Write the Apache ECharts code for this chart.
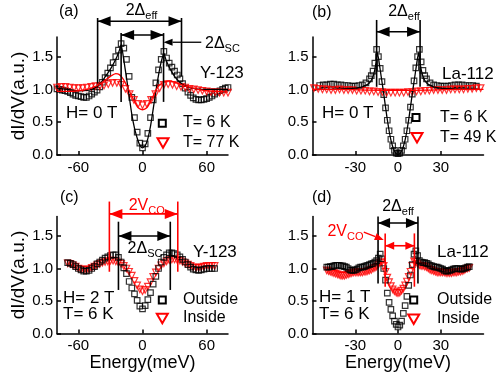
<!DOCTYPE html>
<html>
<head>
<meta charset="utf-8">
<title>dI/dV spectra</title>
<script src="https://cdn.jsdelivr.net/npm/echarts@6/dist/echarts.min.js"></script>
<style>
  html, body { margin: 0; padding: 0; background: #fff; }
  #chart { width: 497px; height: 377px; }
</style>
</head>
<body>
<div id="chart"></div>
<script>
// (a) Y-123, H = 0 T
const eA = [-80,-77.5,-75,-72.5,-70,-67.5,-65,-62.5,-60,-57.5,-55,-52.5,-50,-47.5,-45,-42.5,-40,-37.5,-35,-32.5,-30,-27.5,-25,-22.5,-20,-17.5,-15,-12.5,-10,-7.5,-5,-2.5,0,2.5,5,7.5,10,12.5,15,17.5,20,22.5,25,27.5,30,32.5,35,37.5,40,42.5,45,47.5,50,52.5,55,57.5,60,62.5,65,67.5,70,72.5,75,77.5,80]
const a6K = [1.01,1.00,0.99,0.98,0.97,0.95,0.93,0.91,0.90,0.89,0.88,0.88,0.90,0.93,0.96,0.99,1.04,1.11,1.18,1.25,1.33,1.41,1.50,1.60,1.70,1.63,1.46,1.20,0.88,0.57,0.35,0.18,0.11,0.17,0.33,0.57,0.84,1.10,1.30,1.46,1.58,1.48,1.40,1.34,1.28,1.22,1.16,1.09,1.02,0.96,0.91,0.87,0.85,0.84,0.84,0.85,0.86,0.88,0.90,0.93,0.96,0.98,1.00,1.02,1.03]
const eAfit = [-80,-70,-60,-50,-45,-40,-35,-30,-25,-22,-20,-17.5,-15,-12.5,-10,-7.5,-5,-2.5,0,2.5,5,7.5,10,12.5,15,17.5,20,22,25,30,35,40,50,60,70,80]
const aFit6K = [1.02,1.00,0.98,0.99,1.02,1.08,1.19,1.31,1.46,1.58,1.68,1.45,1.18,0.90,0.62,0.41,0.26,0.15,0.11,0.14,0.25,0.44,0.70,0.97,1.22,1.42,1.55,1.45,1.34,1.20,1.11,1.05,1.01,1.00,1.00,1.00]
const eA77 = [-80,-76,-72,-68,-64,-60,-56,-52,-48,-44,-40,-36,-32,-28,-24,-20,-16,-12,-8,-4,0,4,8,12,16,20,24,28,32,36,40,44,48,52,56,60,64,68,72,76,80]
const a77K = [1.03,1.04,1.04,1.03,1.02,1.02,1.02,1.03,1.04,1.05,1.05,1.06,1.08,1.10,1.10,1.07,1.01,0.93,0.84,0.78,0.76,0.78,0.84,0.93,1.02,1.07,1.08,1.07,1.05,1.04,1.03,1.01,1.00,0.99,0.98,0.97,0.96,0.96,0.95,0.95,0.95]
const eAfit77 = [-80,-70,-60,-50,-45,-40,-35,-30,-25,-22,-19,-16,-13,-10,-7,-4,0,4,7,10,13,16,20,25,30,35,40,50,60,70,80]
const aFit77 = [0.97,0.97,0.98,1.01,1.04,1.08,1.14,1.20,1.24,1.23,1.18,1.10,1.00,0.90,0.80,0.72,0.69,0.72,0.80,0.90,1.00,1.07,1.11,1.13,1.11,1.08,1.05,1.01,0.98,0.97,0.96]

// (b) La-112, H = 0 T
const eB = [-55,-52.5,-50,-47.5,-45,-42.5,-40,-37.5,-35,-32.5,-30,-27.5,-25,-22.5,-20,-18.75,-17.5,-16.25,-15,-13.75,-12.5,-11.25,-10,-8.75,-7.5,-6.25,-5,-3.75,-2.5,-1.25,0,1.25,2.5,3.75,5,6.25,7.5,8.75,10,11.25,12.5,13.75,15,16.25,17.5,18.75,20,22.5,25,27.5,30,32.5,35,37.5,40,42.5,45,47.5,50,52.5,55]
const b6K = [1.06,1.07,1.07,1.08,1.08,1.07,1.07,1.06,1.06,1.05,1.05,1.06,1.07,1.10,1.16,1.21,1.28,1.40,1.61,1.50,1.32,1.12,0.92,0.72,0.53,0.37,0.24,0.14,0.07,0.03,0.02,0.03,0.07,0.14,0.24,0.37,0.53,0.73,0.93,1.13,1.33,1.50,1.61,1.42,1.29,1.21,1.16,1.10,1.07,1.06,1.05,1.05,1.05,1.06,1.07,1.07,1.07,1.06,1.06,1.06,1.05]
const eBfit = [-55,-50,-40,-30,-25,-22,-20,-18,-16.5,-15.5,-14.5,-13.5,-12.5,-11,-10,-8.75,-7.5,-6.25,-5,-3.75,-2.5,-1.25,0,1.25,2.5,3.75,5,6.25,7.5,8.75,10,11,12.5,13.5,14.5,15.5,16.5,18,20,22,25,30,40,50,55]
const bFit6K = [1.00,1.00,1.01,1.02,1.04,1.07,1.10,1.17,1.28,1.40,1.56,1.45,1.30,1.08,0.93,0.73,0.54,0.37,0.23,0.13,0.06,0.02,0.01,0.02,0.06,0.13,0.23,0.37,0.54,0.73,0.93,1.08,1.30,1.45,1.56,1.40,1.28,1.17,1.10,1.07,1.04,1.02,1.01,1.00,1.00]
const eB49 = [-59,-56,-53,-50,-47,-44,-41,-38,-35,-32,-29,-26,-23,-20,-17,-14,-11,-8,-5,-2,1,4,7,10,13,16,19,22,25,28,31,34,37,40,43,46,49,52,55,58]
const b49K = [1.02,1.01,1.00,1.00,0.99,0.99,1.00,0.99,0.99,0.99,0.98,0.98,0.98,0.97,0.97,0.96,0.96,0.95,0.95,0.95,0.95,0.95,0.96,0.96,0.97,0.97,0.98,0.98,0.99,0.99,0.99,0.99,1.00,1.00,1.00,1.00,1.01,1.01,1.02,1.02]
const eBfit49 = [-60,-40,-20,0,20,40,60]
const bFit49 = [1.00,1.00,0.99,0.985,0.99,1.00,1.00]

// (c) Y-123, H = 2 T, T = 6 K
const eC = [-70,-67.5,-65,-62.5,-60,-57.5,-55,-52.5,-50,-47.5,-45,-42.5,-40,-37.5,-35,-32.5,-30,-27.5,-25,-22.5,-20,-17.5,-15,-12.5,-10,-7.5,-5,-2.5,0,2.5,5,7.5,10,12.5,15,17.5,20,22.5,25,27.5,30,32.5,35,37.5,40,42.5,45,47.5,50,52.5,55,57.5,60,62.5,65,67.5]
const cOut = [1.09,1.08,1.06,1.03,1.00,0.98,0.96,0.96,0.97,1.00,1.03,1.07,1.10,1.13,1.16,1.18,1.20,1.21,1.21,1.17,1.10,1.01,0.92,0.80,0.70,0.61,0.51,0.42,0.38,0.43,0.52,0.63,0.76,0.88,1.00,1.10,1.17,1.21,1.24,1.24,1.23,1.21,1.18,1.14,1.10,1.06,1.02,0.99,0.98,0.97,0.98,0.99,1.00,1.00,1.00,1.00]
const cIn = [1.08,1.07,1.05,1.03,1.00,0.99,0.98,0.98,0.99,1.01,1.03,1.05,1.07,1.09,1.10,1.11,1.12,1.12,1.11,1.09,1.07,1.04,1.00,0.95,0.89,0.81,0.74,0.68,0.65,0.67,0.72,0.79,0.87,0.94,1.00,1.05,1.08,1.11,1.13,1.14,1.14,1.13,1.12,1.10,1.08,1.06,1.04,1.02,1.01,1.01,1.02,1.03,1.04,1.04,1.04,1.04]

// (d) La-112, H = 1 T, T = 6 K
const eD = [-50,-48.75,-47.5,-46.25,-45,-43.75,-42.5,-41.25,-40,-38.75,-37.5,-36.25,-35,-33.75,-32.5,-31.25,-30,-28.75,-27.5,-26.25,-25,-23.75,-22.5,-21.25,-20,-18.75,-17.5,-16.25,-15,-13.75,-12.5,-11.25,-10,-8.75,-7.5,-6.25,-5,-3.75,-2.5,-1.25,0,1.25,2.5,3.75,5,6.25,7.5,8.75,10,11.25,12.5,13.75,15,16.25,17.5,18.75,20,21.25,22.5,23.75,25,26.25,27.5,28.75,30,31.25,32.5,33.75,35,36.25,37.5,38.75,40,41.25,42.5,43.75,45,46.25,47.5,48.75,50]
const dOut = [1.02,1.02,1.03,1.03,1.04,1.05,1.05,1.05,1.04,1.04,1.03,1.02,1.00,0.98,0.97,0.97,0.98,0.99,1.01,1.02,1.02,1.03,1.04,1.05,1.06,1.07,1.08,1.10,1.12,1.16,1.22,1.15,1.00,0.82,0.62,0.48,0.37,0.27,0.19,0.14,0.10,0.13,0.19,0.31,0.43,0.57,0.74,0.90,1.06,1.22,1.27,1.20,1.12,1.10,1.09,1.09,1.08,1.07,1.05,1.04,1.03,1.02,1.02,1.01,1.00,0.99,0.97,0.96,0.96,0.97,0.98,0.99,1.00,1.00,1.00,0.99,0.99,1.00,1.01,1.02,1.03]
const dIn = [0.97,0.96,0.95,0.94,0.93,0.92,0.91,0.90,0.89,0.89,0.89,0.90,0.91,0.92,0.93,0.94,0.94,0.94,0.94,0.94,0.94,0.95,0.95,0.96,0.97,0.98,1.00,1.01,1.03,1.06,1.09,1.10,1.04,0.95,0.86,0.79,0.73,0.68,0.65,0.63,0.62,0.63,0.66,0.69,0.74,0.80,0.87,0.95,1.04,1.11,1.10,1.07,1.05,1.04,1.04,1.03,1.02,1.00,0.98,0.97,0.96,0.95,0.94,0.94,0.94,0.94,0.94,0.93,0.93,0.93,0.93,0.94,0.94,0.94,0.95,0.95,0.96,0.97,0.99,1.00,1.01]

const yTicks = [0, 0.5, 1, 1.5]
const FONT = '"Liberation Sans", Arial, Helvetica, sans-serif'
const K = '#000'
const R = '#ff0000'

const pts = (xs, ys) => xs.map((x, i) => [x, ys[i]])

// annotation marks in data units: vertical bars, double arrows, leader arrows
const annA = {
  v: [[-42, 1.09, 2.09, K], [36.5, 1.2, 2.09, K], [-20, 0.81, 1.86, K], [19.7, 0.81, 1.86, K]],
  a: [[-42, 36.5, 2.04, K, 13, 5], [-20, 19.7, 1.83, K, 13, 5]],
  l: [[55, 1.72, 19.7, 1.72, K]]
}
const annB = {
  v: [[-15, 1.04, 2.06, K], [15.5, 1.04, 2.06, K]],
  a: [[-15, 15.5, 1.88, K, 13, 5]],
  l: []
}
const annC = {
  v: [[-31, 0.95, 2.03, R], [33, 0.95, 2.03, R], [-22.5, 0.67, 1.72, K], [26, 0.67, 1.72, K]],
  a: [[-31, 33, 1.84, R, 13, 5], [-22.5, 26, 1.5, K, 13, 5]],
  l: []
}
const annD = {
  v: [[-14, 0.77, 1.8, K], [14, 0.77, 1.8, K], [-9, 0.72, 1.54, R], [11.5, 0.72, 1.54, R]],
  a: [[-14, 14, 1.7, K, 12, 5], [-9, 11.5, 1.35, R, 9, 4]],
  l: [[-24, 1.56, -10, 1.44, R]]
}

const chart = echarts.init(document.getElementById('chart'), null, { renderer: 'canvas' })

function xAx(gi, min, max, ticks, name) {
  return {
    type: 'value', gridIndex: gi, min: min, max: max,
    name: name || '', nameLocation: 'middle', nameGap: 19,
    nameTextStyle: { fontSize: 18, fontFamily: FONT, color: '#000' },
    axisLine: { show: true, onZero: false, lineStyle: { color: '#000', width: 1.5 } },
    axisTick: { show: true, inside: true, length: 4, customValues: ticks, lineStyle: { color: '#000', width: 1.5 } },
    axisLabel: { customValues: ticks, fontSize: 15, fontFamily: FONT, color: '#000', margin: 5 },
    splitLine: { show: false }
  }
}

function yAx(gi, name) {
  return {
    type: 'value', gridIndex: gi, min: 0, max: 1.8,
    name: name || '', nameLocation: 'middle', nameGap: 17,
    nameTextStyle: { fontSize: 19, fontFamily: FONT, color: '#000' },
    axisLine: { show: true, onZero: false, lineStyle: { color: '#000', width: 1.5 } },
    axisTick: { show: true, inside: true, length: 4, customValues: yTicks, lineStyle: { color: '#000', width: 1.5 } },
    axisLabel: { customValues: yTicks, fontSize: 15, fontFamily: FONT, color: '#000', margin: 4,
      formatter: function (v) { return v.toFixed(1) } },
    splitLine: { show: false }
  }
}

function squares(gi, data) {
  return {
    type: 'scatter', xAxisIndex: gi, yAxisIndex: gi, data: data, silent: true,
    symbol: 'rect', symbolSize: 5.5,
    itemStyle: { color: 'rgba(0,0,0,0)', borderColor: K, borderWidth: 1.2 }
  }
}

function triangles(gi, data) {
  return {
    type: 'scatter', xAxisIndex: gi, yAxisIndex: gi, data: data, silent: true,
    symbol: 'triangle', symbolSize: 6.5, symbolRotate: 180,
    itemStyle: { color: 'rgba(0,0,0,0)', borderColor: R, borderWidth: 1.2 }
  }
}

function fitLine(gi, data, color) {
  return {
    type: 'line', xAxisIndex: gi, yAxisIndex: gi, data: data, silent: true,
    showSymbol: false, symbol: 'none', smooth: 0.2,
    lineStyle: { color: color, width: 1.3 }
  }
}

function annot(gi, spec) {
  return {
    type: 'custom', xAxisIndex: gi, yAxisIndex: gi, silent: true, z: 5, clip: false,
    data: [[0, 0]],
    renderItem: function (params, api) {
      const ch = []
      spec.v.forEach(function (s) {
        const p1 = api.coord([s[0], s[1]]), p2 = api.coord([s[0], s[2]])
        ch.push({ type: 'line', shape: { x1: p1[0], y1: p1[1], x2: p2[0], y2: p2[1] },
          style: { stroke: s[3], lineWidth: 1.6 } })
      })
      spec.a.forEach(function (s) {
        const pa = api.coord([s[0], s[2]]), pb = api.coord([s[1], s[2]])
        const L = s[4], H = s[5]
        ch.push({ type: 'line', shape: { x1: pa[0], y1: pa[1], x2: pb[0], y2: pb[1] },
          style: { stroke: s[3], lineWidth: 1.6 } })
        ch.push({ type: 'polygon', shape: { points: [[pa[0], pa[1]], [pa[0] + L, pa[1] - H], [pa[0] + L, pa[1] + H]] },
          style: { fill: s[3] } })
        ch.push({ type: 'polygon', shape: { points: [[pb[0], pb[1]], [pb[0] - L, pb[1] - H], [pb[0] - L, pb[1] + H]] },
          style: { fill: s[3] } })
      })
      spec.l.forEach(function (s) {
        const p1 = api.coord([s[0], s[1]]), p2 = api.coord([s[2], s[3]])
        const dx = p2[0] - p1[0], dy = p2[1] - p1[1]
        const len = Math.sqrt(dx * dx + dy * dy)
        const ux = dx / len, uy = dy / len
        const L = 9, H = 3.5
        const bx = p2[0] - ux * L, by = p2[1] - uy * L
        ch.push({ type: 'line', shape: { x1: p1[0], y1: p1[1], x2: bx, y2: by },
          style: { stroke: s[4], lineWidth: 1.3 } })
        ch.push({ type: 'polygon', shape: { points: [[p2[0], p2[1]], [bx - uy * H, by + ux * H], [bx + uy * H, by - ux * H]] },
          style: { fill: s[4] } })
      })
      return { type: 'group', children: ch }
    }
  }
}

function txt(x, y, text, size, color, align) {
  return { type: 'text', x: x, y: y, silent: true, z: 10,
    style: { text: text, fontSize: size, fontFamily: FONT, fill: color || K,
      align: align || 'left', verticalAlign: 'middle' } }
}

function subTxt(x, y, main, sub, size, color, align) {
  const c = color || K
  return { type: 'text', x: x, y: y, silent: true, z: 10,
    style: { text: '{m|' + main + '}{s|' + sub + '}', fill: c,
      align: align || 'center', verticalAlign: 'middle',
      rich: {
        m: { fontSize: size, fontFamily: FONT, lineHeight: size + 4, fill: c },
        s: { fontSize: Math.round(size * 0.7), fontFamily: FONT, lineHeight: 8, verticalAlign: 'bottom', fill: c }
      } } }
}

function sqMark(x, y) {
  return { type: 'rect', silent: true, z: 10, shape: { x: x - 3.5, y: y - 3.5, width: 7, height: 7 },
    style: { fill: 'none', stroke: K, lineWidth: 2 } }
}

function triMark(x, y) {
  return { type: 'polygon', silent: true, z: 10, shape: { points: [[x - 5.5, y - 4.5], [x + 5.5, y - 4.5], [x, y + 5]] },
    style: { fill: 'none', stroke: R, lineWidth: 2 } }
}

chart.setOption({
  backgroundColor: '#fff',
  animation: false,
  grid: [
    { left: 57, top: 37, width: 171, height: 118 },
    { left: 312.5, top: 37, width: 171, height: 118 },
    { left: 57, top: 216.5, width: 171, height: 117 },
    { left: 312.5, top: 216.5, width: 171, height: 117 }
  ],
  xAxis: [
    xAx(0, -80, 80, [-60, 0, 60]),
    xAx(1, -60, 60, [-30, 0, 30]),
    xAx(2, -80, 80, [-60, 0, 60], 'Energy(meV)'),
    xAx(3, -60, 60, [-30, 0, 30], 'Energy(meV)')
  ],
  yAxis: [
    yAx(0, 'dI/dV(a.u.)'),
    yAx(1),
    yAx(2, 'dI/dV(a.u.)'),
    yAx(3)
  ],
  series: [
    squares(0, pts(eA, a6K)),
    fitLine(0, pts(eAfit, aFit6K), K),
    triangles(0, pts(eA77, a77K)),
    fitLine(0, pts(eAfit77, aFit77), R),
    annot(0, annA),

    squares(1, pts(eB, b6K)),
    fitLine(1, pts(eBfit, bFit6K), K),
    triangles(1, pts(eB49, b49K)),
    fitLine(1, pts(eBfit49, bFit49), R),
    annot(1, annB),

    triangles(2, pts(eC, cIn)),
    squares(2, pts(eC, cOut)),
    annot(2, annC),

    triangles(3, pts(eD, dIn)),
    squares(3, pts(eD, dOut)),
    annot(3, annD)
  ],
  graphic: [
    // (a)
    txt(59, 12, '(a)', 16),
    subTxt(141.5, 11, '2Δ', 'eff', 16),
    subTxt(205, 44, '2Δ', 'SC', 16, K, 'left'),
    txt(200, 73, 'Y-123', 17),
    txt(66, 113, 'H= 0 T', 17),
    sqMark(162.3, 123.3), txt(183, 123, 'T= 6 K', 16),
    triMark(163, 142.7), txt(183, 143, 'T= 77 K', 16),
    // (b)
    txt(312, 13, '(b)', 16),
    subTxt(404, 12, '2Δ', 'eff', 16),
    txt(442, 74, 'La-112', 17),
    txt(322, 113, 'H= 0 T', 17),
    sqMark(416, 117.5), txt(440, 118, 'T= 6 K', 16),
    triMark(417, 137.5), txt(440, 138, 'T= 49 K', 16),
    // (c)
    txt(60, 197.5, '(c)', 16),
    subTxt(146.7, 206, '2V', 'CO', 16, R),
    subTxt(145, 249, '2Δ', 'SC', 16),
    txt(193, 252, 'Y-123', 17),
    txt(63, 298.7, 'H= 2 T', 17),
    txt(63, 314.7, 'T= 6 K', 17),
    sqMark(162.3, 300), txt(183, 300, 'Outside', 16),
    triMark(162.3, 318.3), txt(183, 318, 'Inside', 16),
    // (d)
    txt(312, 197.5, '(d)', 16),
    subTxt(398, 207, '2Δ', 'eff', 16),
    subTxt(345.5, 232, '2V', 'CO', 16, R),
    txt(437, 252, 'La-112', 17),
    txt(319, 297.5, 'H= 1 T', 17),
    txt(319, 314, 'T= 6 K', 17),
    sqMark(413.7, 300), txt(437, 300, 'Outside', 16),
    triMark(413.7, 319), txt(437, 319, 'Inside', 16)
  ]
})
</script>
</body>
</html>
